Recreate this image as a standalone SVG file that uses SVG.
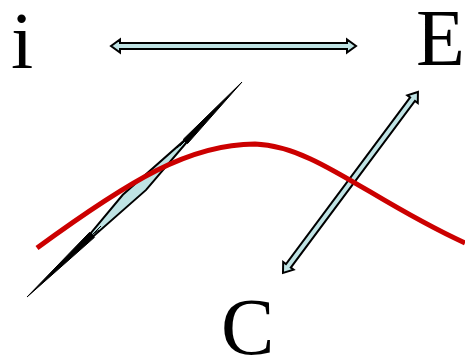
<svg xmlns="http://www.w3.org/2000/svg" width="465" height="358" viewBox="0 0 465 358">
<style>
.lbl{font-family:"Liberation Serif","Times New Roman",serif;font-size:80px;fill:#000}
.arr{fill:#BFE3E4;stroke:#000;stroke-width:2;stroke-linejoin:miter}
.curve{fill:none;stroke:#CC0000;stroke-width:5}
</style>
<defs>
<path id="dbl245" d="M0,0 L9,-6.5 L9,-3 L236,-3 L236,-6.5 L245,0 L236,6.5 L236,3 L9,3 L9,6.5 Z"/>
<path id="dbl226" d="M0,0 L9,-6.5 L9,-3 L216.8,-3 L216.8,-6.5 L225.8,0 L216.8,6.5 L216.8,3 L9,3 L9,6.5 Z"/>
</defs>
<g id="node-i"><text class="lbl" x="11" y="68">i</text></g>
<g id="node-E"><text class="lbl" x="416" y="65">E</text></g>
<g id="node-C"><text class="lbl" x="221" y="354">C</text></g>
<g id="connectors">
<use href="#dbl245" class="arr" transform="translate(111,46)"/>
<use href="#dbl226" class="arr" transform="translate(283,273) rotate(-53.3)"/>
<g id="lens">
<polygon points="27,297 89.6,232.3 94.5,237.3" fill="#000" stroke="#000" stroke-width="1"/>
<polygon points="242,82 183.3,139.3 187.5,143.6" fill="#000" stroke="#000" stroke-width="1"/>
<polygon class="arr" stroke-width="1.6" points="90.6,233.4 122.8,194.8 184.3,140.4 186.5,142.5 146.1,189.9 93.5,236.2"/>
<polyline points="101,226 93,234 99,230" fill="none" stroke="#000" stroke-width="1"/>
<polyline points="177,148 185,141 180,146" fill="none" stroke="#000" stroke-width="1"/>
</g>
</g>
<path class="curve" d="M37,248 C130,180 190,144 255,144 C315,146 370,200 465,243"/>
</svg>
